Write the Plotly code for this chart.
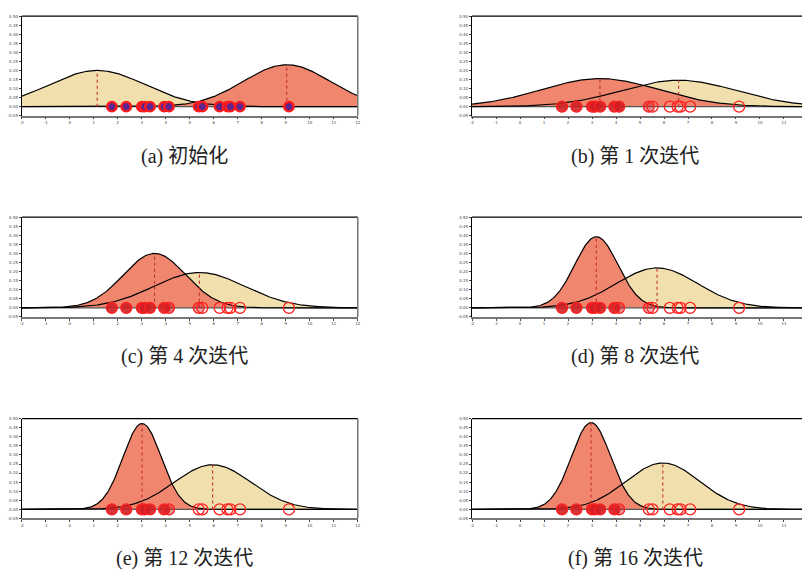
import numpy as np
import plotly.graph_objects as go

# ---------------- data ----------------
captions = ["(a) 初始化", "(b) 第 1 次迭代", "(c) 第 4 次迭代",
            "(d) 第 8 次迭代", "(e) 第 12 次迭代", "(f) 第 16 次迭代"]

points = [1.75, 2.35, 3.0, 3.12, 3.34, 3.93, 4.13, 5.37, 5.52, 6.24, 6.57, 6.69, 7.09, 9.13]

# component drawn in tan (wheat) per panel: mean, sigma, peak height
tan_mean = [1.14, 6.61, 5.40, 5.71, 5.95, 5.95]
tan_sigma = [2.0, 2.4, 1.9, 1.7, 1.6, 1.53]
tan_peak = [0.200, 0.146, 0.195, 0.220, 0.246, 0.256]

# component drawn in salmon per panel
sal_mean = [9.04, 3.33, 3.53, 3.18, 3.01, 2.96]
sal_sigma = [1.8, 2.44, 1.3, 0.9, 0.8, 0.82]
sal_peak = [0.232, 0.155, 0.300, 0.392, 0.473, 0.478]

# red fill strength of each point marker per panel (panel a uses purple)
fill_b = [1, 1, 1, 1, 1, 1, 1, 0.55, 0, 0, 0, 0, 0, 0]
fill_c = [1, 1, 1, 1, 1, 1, 0.7, 0.45, 0, 0, 0, 0, 0, 0]
fill_d = [1, 1, 1, 1, 1, 1, 0.55, 0.4, 0, 0, 0, 0, 0, 0]
fill_e = [1, 1, 1, 1, 1, 1, 0.5, 0, 0, 0, 0, 0, 0, 0]
fill_f = [1, 1, 1, 1, 1, 1, 0.5, 0, 0, 0, 0, 0, 0, 0]
fills = [None, fill_b, fill_c, fill_d, fill_e, fill_f]

x_ticks = list(range(-2, 13))
y_ticks = [-0.05, 0.0, 0.05, 0.10, 0.15, 0.20, 0.25, 0.30, 0.35, 0.40, 0.45, 0.50]

# ---------------- layout geometry ----------------
W, H = 805, 572
col_px = [(20, 358), (473, 805)]
row_px = [(13.3, 113.7), (216, 316.7), (419.3, 520)]
cap_y = [155, 357, 560]
cap_x = [184, 637]

TAN = "#F2DFAE"
SAL = "#F0866E"

xs = np.linspace(-2, 12, 500)

fig = go.Figure()
layout = dict(width=W, height=H, margin=dict(l=0, r=0, t=0, b=0),
              paper_bgcolor="white", plot_bgcolor="white", showlegend=False)
shapes = []
annotations = []

tick_font = dict(family="DejaVu Sans", size=4, color="#444")

for i in range(6):
    r, c = divmod(i, 2)
    n = "" if i == 0 else str(i + 1)
    xa, ya = "x" + n, "y" + n
    x0p, x1p = col_px[c]
    t, b = row_px[r]
    xmax = 12 if c == 0 else -2 + (805 - 473) / ((811 - 473) / 14)
    layout["xaxis" + n] = dict(domain=[x0p / W, x1p / W], range=[-2, xmax], anchor=ya,
                               showgrid=False, zeroline=False, showline=True,
                               linecolor="#777", linewidth=1.5, ticks="outside",
                               ticklen=2, tickwidth=0.8, tickcolor="#444",
                               tickvals=x_ticks, ticktext=[str(v) for v in x_ticks],
                               tickfont=tick_font, fixedrange=True)
    layout["yaxis" + n] = dict(domain=[1 - b / H, 1 - t / H], range=[-0.05, 0.5], anchor=xa,
                               showgrid=False, zeroline=False, showline=True,
                               linecolor="black", linewidth=1.2, ticks="outside",
                               ticklen=2, tickwidth=0.8, tickcolor="#444",
                               tickvals=y_ticks, ticktext=["%.2f" % v for v in y_ticks],
                               tickfont=tick_font, fixedrange=True)
    # frame top / right
    shapes.append(dict(type="line", xref=xa + " domain", yref=ya + " domain",
                       x0=0, x1=1, y0=1, y1=1, line=dict(color="black", width=1.3)))
    if c == 0:
        shapes.append(dict(type="line", xref=xa + " domain", yref=ya + " domain",
                           x0=1, x1=1, y0=0, y1=1, line=dict(color="#777", width=1.5)))

    ty = tan_peak[i] * np.exp(-(xs - tan_mean[i]) ** 2 / (2 * tan_sigma[i] ** 2))
    sy = sal_peak[i] * np.exp(-(xs - sal_mean[i]) ** 2 / (2 * sal_sigma[i] ** 2))

    fig.add_trace(go.Scatter(x=xs, y=ty, mode="lines", fill="tozeroy", fillcolor=TAN,
                             line=dict(width=0), xaxis=xa, yaxis=ya, hoverinfo="skip"))
    fig.add_trace(go.Scatter(x=xs, y=sy, mode="lines", fill="tozeroy", fillcolor=SAL,
                             line=dict(width=0), xaxis=xa, yaxis=ya, hoverinfo="skip"))
    # baseline
    fig.add_trace(go.Scatter(x=[-2, 12], y=[0, 0], mode="lines",
                             line=dict(color="#555", width=1.3), xaxis=xa, yaxis=ya,
                             hoverinfo="skip"))
    fig.add_trace(go.Scatter(x=xs, y=ty, mode="lines", line=dict(color="black", width=1.2),
                             xaxis=xa, yaxis=ya, hoverinfo="skip"))
    fig.add_trace(go.Scatter(x=xs, y=sy, mode="lines", line=dict(color="black", width=1.2),
                             xaxis=xa, yaxis=ya, hoverinfo="skip"))
    # dotted mean lines
    for m, p in ((tan_mean[i], tan_peak[i]), (sal_mean[i], sal_peak[i])):
        fig.add_trace(go.Scatter(x=[m, m], y=[0, p], mode="lines",
                                 line=dict(color="#C0302A", width=1.1, dash="dot"),
                                 xaxis=xa, yaxis=ya, hoverinfo="skip"))
    # points
    if i == 0:
        fig.add_trace(go.Scatter(x=points, y=[0] * len(points), mode="markers",
                                 marker=dict(size=9.5, color="#5E2590",
                                             line=dict(color="#FF1A1A", width=2.4)),
                                 xaxis=xa, yaxis=ya, hoverinfo="skip"))
    else:
        cols = ["rgba(208,30,36,%.2f)" % (0.9 * a) for a in fills[i]]
        fig.add_trace(go.Scatter(x=points, y=[0] * len(points), mode="markers",
                                 marker=dict(size=11, color=cols,
                                             line=dict(color="#FF2020", width=1.3)),
                                 xaxis=xa, yaxis=ya, hoverinfo="skip"))

    annotations.append(dict(text=captions[i], xref="paper", yref="paper",
                            x=cap_x[c] / W, y=1 - cap_y[r] / H, showarrow=False,
                            xanchor="center", yanchor="middle",
                            font=dict(family="Liberation Serif, Noto Sans CJK SC",
                                      size=20, color="#222")))

layout["shapes"] = shapes
layout["annotations"] = annotations
fig.update_layout(**layout)
fig.write_html("out.html", config={"displayModeBar": False},
               post_script="document.body.style.margin='0';document.body.style.overflow='hidden';")
